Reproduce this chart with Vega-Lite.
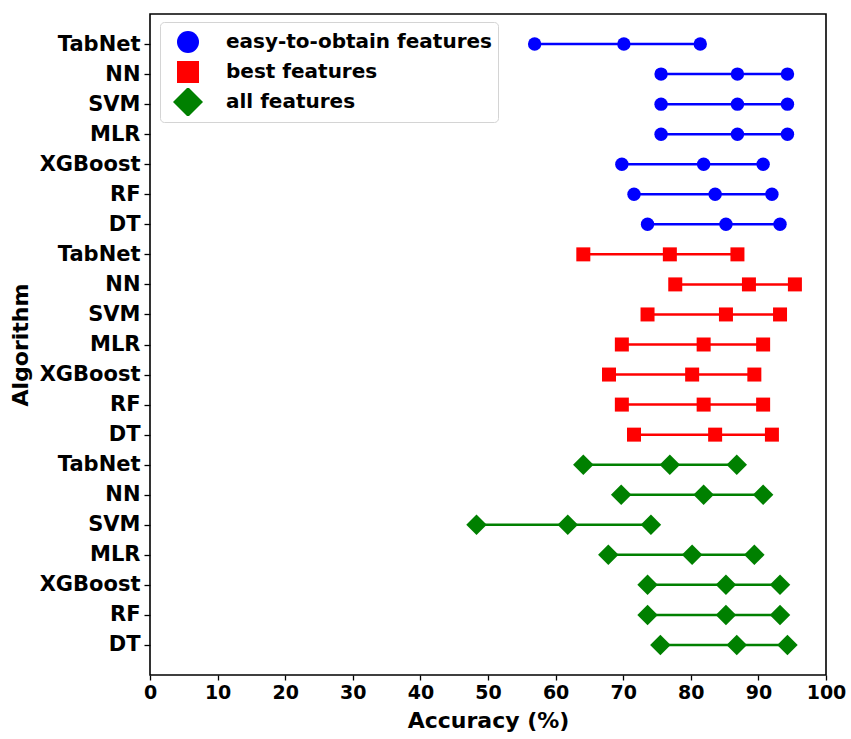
{
  "$schema": "https://vega.github.io/schema/vega-lite/v6.json",
  "width": 676,
  "height": 661,
  "autosize": {"type": "none"},
  "padding": {"left": 150, "top": 14, "right": 25, "bottom": 64},
  "background": "white",
  "config": {
    "font": "DejaVu Sans",
    "view": {"stroke": "black", "strokeWidth": 1.6},
    "axis": {
      "labelFont": "DejaVu Sans", "labelFontWeight": "bold", "labelFontSize": 19, "labelColor": "black",
      "titleFont": "DejaVu Sans", "titleFontWeight": "bold", "titleFontSize": 22, "titleColor": "black",
      "domain": false, "grid": false, "tickColor": "black", "tickSize": 5, "tickWidth": 1.3
    }
  },
  "data": {
    "values": [
      {"key": "E|TabNet", "group": "easy-to-obtain features", "acc": 56.9},
      {"key": "E|TabNet", "group": "easy-to-obtain features", "acc": 70.1},
      {"key": "E|TabNet", "group": "easy-to-obtain features", "acc": 81.4},
      {"key": "E|NN", "group": "easy-to-obtain features", "acc": 75.6},
      {"key": "E|NN", "group": "easy-to-obtain features", "acc": 86.9},
      {"key": "E|NN", "group": "easy-to-obtain features", "acc": 94.3},
      {"key": "E|SVM", "group": "easy-to-obtain features", "acc": 75.6},
      {"key": "E|SVM", "group": "easy-to-obtain features", "acc": 86.9},
      {"key": "E|SVM", "group": "easy-to-obtain features", "acc": 94.3},
      {"key": "E|MLR", "group": "easy-to-obtain features", "acc": 75.6},
      {"key": "E|MLR", "group": "easy-to-obtain features", "acc": 86.9},
      {"key": "E|MLR", "group": "easy-to-obtain features", "acc": 94.3},
      {"key": "E|XGBoost", "group": "easy-to-obtain features", "acc": 69.8},
      {"key": "E|XGBoost", "group": "easy-to-obtain features", "acc": 81.9},
      {"key": "E|XGBoost", "group": "easy-to-obtain features", "acc": 90.7},
      {"key": "E|RF", "group": "easy-to-obtain features", "acc": 71.6},
      {"key": "E|RF", "group": "easy-to-obtain features", "acc": 83.6},
      {"key": "E|RF", "group": "easy-to-obtain features", "acc": 92.0},
      {"key": "E|DT", "group": "easy-to-obtain features", "acc": 73.6},
      {"key": "E|DT", "group": "easy-to-obtain features", "acc": 85.2},
      {"key": "E|DT", "group": "easy-to-obtain features", "acc": 93.2},
      {"key": "B|TabNet", "group": "best features", "acc": 64.1},
      {"key": "B|TabNet", "group": "best features", "acc": 76.9},
      {"key": "B|TabNet", "group": "best features", "acc": 86.9},
      {"key": "B|NN", "group": "best features", "acc": 77.7},
      {"key": "B|NN", "group": "best features", "acc": 88.6},
      {"key": "B|NN", "group": "best features", "acc": 95.4},
      {"key": "B|SVM", "group": "best features", "acc": 73.6},
      {"key": "B|SVM", "group": "best features", "acc": 85.2},
      {"key": "B|SVM", "group": "best features", "acc": 93.2},
      {"key": "B|MLR", "group": "best features", "acc": 69.8},
      {"key": "B|MLR", "group": "best features", "acc": 81.9},
      {"key": "B|MLR", "group": "best features", "acc": 90.7},
      {"key": "B|XGBoost", "group": "best features", "acc": 67.9},
      {"key": "B|XGBoost", "group": "best features", "acc": 80.2},
      {"key": "B|XGBoost", "group": "best features", "acc": 89.4},
      {"key": "B|RF", "group": "best features", "acc": 69.8},
      {"key": "B|RF", "group": "best features", "acc": 81.9},
      {"key": "B|RF", "group": "best features", "acc": 90.7},
      {"key": "B|DT", "group": "best features", "acc": 71.6},
      {"key": "B|DT", "group": "best features", "acc": 83.6},
      {"key": "B|DT", "group": "best features", "acc": 92.0},
      {"key": "A|TabNet", "group": "all features", "acc": 64.1},
      {"key": "A|TabNet", "group": "all features", "acc": 76.9},
      {"key": "A|TabNet", "group": "all features", "acc": 86.8},
      {"key": "A|NN", "group": "all features", "acc": 69.7},
      {"key": "A|NN", "group": "all features", "acc": 81.9},
      {"key": "A|NN", "group": "all features", "acc": 90.7},
      {"key": "A|SVM", "group": "all features", "acc": 48.3},
      {"key": "A|SVM", "group": "all features", "acc": 61.8},
      {"key": "A|SVM", "group": "all features", "acc": 74.1},
      {"key": "A|MLR", "group": "all features", "acc": 67.8},
      {"key": "A|MLR", "group": "all features", "acc": 80.2},
      {"key": "A|MLR", "group": "all features", "acc": 89.4},
      {"key": "A|XGBoost", "group": "all features", "acc": 73.6},
      {"key": "A|XGBoost", "group": "all features", "acc": 85.2},
      {"key": "A|XGBoost", "group": "all features", "acc": 93.2},
      {"key": "A|RF", "group": "all features", "acc": 73.6},
      {"key": "A|RF", "group": "all features", "acc": 85.2},
      {"key": "A|RF", "group": "all features", "acc": 93.2},
      {"key": "A|DT", "group": "all features", "acc": 75.5},
      {"key": "A|DT", "group": "all features", "acc": 86.8},
      {"key": "A|DT", "group": "all features", "acc": 94.3}
    ]
  },
  "encoding": {
    "x": {
      "field": "acc", "type": "quantitative",
      "scale": {"domain": [0, 100], "nice": false, "zero": false},
      "axis": {"values": [0, 10, 20, 30, 40, 50, 60, 70, 80, 90, 100], "title": "Accuracy (%)", "labelPadding": 3, "titlePadding": 8, "labelFlush": false}
    },
    "y": {
      "field": "key", "type": "nominal",
      "sort": ["E|TabNet","E|NN","E|SVM","E|MLR","E|XGBoost","E|RF","E|DT","B|TabNet","B|NN","B|SVM","B|MLR","B|XGBoost","B|RF","B|DT","A|TabNet","A|NN","A|SVM","A|MLR","A|XGBoost","A|RF","A|DT"],
      "scale": {"type": "point", "padding": 1},
      "axis": {"title": "Algorithm", "labelExpr": "split(datum.label, '|')[1]", "labelFontSize": 21, "tickSize": 6, "labelPadding": 4, "titlePadding": 7}
    },
    "color": {
      "field": "group", "type": "nominal",
      "scale": {"domain": ["easy-to-obtain features", "best features", "all features"], "range": ["#0000ff", "#ff0000", "#008000"]},
      "legend": {
        "title": null, "orient": "none", "legendX": 10, "legendY": 8,
        "labelFont": "DejaVu Sans", "labelFontWeight": "bold", "labelFontSize": 20, "labelColor": "black",
        "symbolSize": 484, "symbolStrokeWidth": 0, "symbolOffset": 11, "labelOffset": 27,
        "rowPadding": 2, "padding": 6, "fillColor": "white", "strokeColor": "#d4d4d4", "cornerRadius": 4,
        "labelLimit": 400,
        "clipHeight": 28,
        "encode": {"symbols": {"update": {"size": {"signal": "datum.value === 'all features' ? 900 : 484"}}}}
      }
    },
    "shape": {
      "field": "group", "type": "nominal",
      "scale": {"domain": ["easy-to-obtain features", "best features", "all features"], "range": ["circle", "square", "diamond"]},
      "legend": {
        "title": null, "orient": "none", "legendX": 10, "legendY": 8,
        "labelFont": "DejaVu Sans", "labelFontWeight": "bold", "labelFontSize": 20, "labelColor": "black",
        "symbolSize": 484, "symbolStrokeWidth": 0, "symbolOffset": 11, "labelOffset": 27,
        "rowPadding": 2, "padding": 6, "fillColor": "white", "strokeColor": "#d4d4d4", "cornerRadius": 4,
        "labelLimit": 400,
        "clipHeight": 28,
        "encode": {"symbols": {"update": {"size": {"signal": "datum.value === 'all features' ? 900 : 484"}}}}
      }
    }
  },
  "layer": [
    {
      "mark": {"type": "line", "strokeWidth": 2.5},
      "encoding": {"detail": {"field": "key"}, "shape": null}
    },
    {
      "transform": [{"filter": "datum.group === 'easy-to-obtain features'"}],
      "mark": {"type": "point", "filled": true, "opacity": 1, "strokeWidth": 0, "size": 180}
    },
    {
      "transform": [{"filter": "datum.group === 'best features'"}],
      "mark": {"type": "point", "filled": true, "opacity": 1, "strokeWidth": 0, "size": 196}
    },
    {
      "transform": [{"filter": "datum.group === 'all features'"}],
      "mark": {"type": "point", "filled": true, "opacity": 1, "strokeWidth": 0, "size": 420}
    }
  ]
}
